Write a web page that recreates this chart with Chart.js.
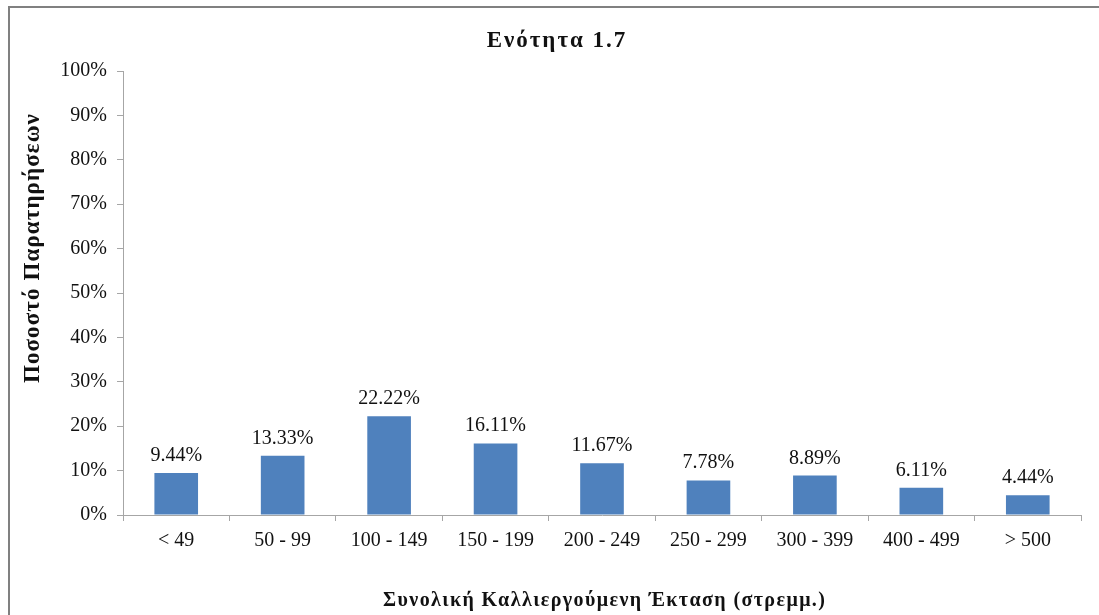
<!DOCTYPE html>
<html>
<head>
<meta charset="utf-8">
<script src="https://cdn.jsdelivr.net/npm/chart.js@4"></script>
<style>
  html, body { margin: 0; padding: 0; background: #fff; overflow: hidden; }
  #wrap { position: relative; width: 1099px; height: 615px; }
  #frame { position: absolute; left: 8px; top: 6px; width: 1200px; height: 700px;
           border-left: 2px solid #808080; border-top: 2px solid #808080; }
  canvas { position: absolute; left: 0; top: 0; }
</style>
</head>
<body>
<div id="wrap">
  <div id="frame"></div>
  <canvas id="chart" width="1099" height="615"></canvas>
</div>
<script>
'use strict';

/* Bar chart: share of observations per cultivated-area class. */

const categories = ['< 49', '50 - 99', '100 - 149', '150 - 199', '200 - 249', '250 - 299', '300 - 399', '400 - 499', '> 500'];
const shares = [9.44, 13.33, 22.22, 16.11, 11.67, 7.78, 8.89, 6.11, 4.44];
const yTicks = [0, 10, 20, 30, 40, 50, 60, 70, 80, 90, 100];

const chartTitle = 'Ενότητα 1.7';
const xTitle = 'Συνολική Καλλιεργούμενη Έκταση (στρεμμ.)';
const yTitle = 'Ποσοστό Παρατηρήσεων';

const FONT = "'Liberation Serif', 'Times New Roman', serif";
const AXIS = '#a6a6a6';
const INK = '#111';

// Value labels above each bar.
const barLabels = {
  id: 'barLabels',
  afterDatasetsDraw(chart) {
    const ctx = chart.ctx;
    const meta = chart.getDatasetMeta(0);
    ctx.save();
    ctx.font = '20px ' + FONT;
    ctx.fillStyle = INK;
    ctx.textAlign = 'center';
    ctx.textBaseline = 'alphabetic';
    meta.data.forEach((bar, i) => {
      ctx.fillText(shares[i].toFixed(2) + '%', bar.x, bar.y - 12);
    });
    ctx.restore();
  },
};

// Titles drawn by hand: the original's bold Greek is set wider than Liberation Serif.
function spacedText(ctx, text, x, y, font, spacing, angle) {
  ctx.save();
  ctx.translate(x, y);
  if (angle) ctx.rotate(angle);
  ctx.font = font;
  ctx.letterSpacing = spacing + 'px';
  ctx.fillStyle = INK;
  ctx.textAlign = 'center';
  ctx.textBaseline = 'middle';
  ctx.fillText(text, spacing / 2, 0);
  ctx.restore();
}

const titles = {
  id: 'titles',
  afterDraw(chart) {
    const ctx = chart.ctx;
    const a = chart.chartArea;
    spacedText(ctx, chartTitle, 556, 41, 'bold 23px ' + FONT, 2, 0);
    spacedText(ctx, xTitle, (a.left + a.right) / 2 + 2, 601, 'bold 20px ' + FONT, 1.4, 0);
    spacedText(ctx, yTitle, 33, a.top + a.height * 0.4, 'bold 23px ' + FONT, 1.1, -Math.PI / 2);
  },
};

new Chart(document.getElementById('chart'), {
  type: 'bar',
  data: {
    labels: categories,
    datasets: [{
      data: shares,
      backgroundColor: '#4f81bd',
      borderWidth: 0,
      barPercentage: 0.41,
      categoryPercentage: 1,
    }],
  },
  options: {
    responsive: false,
    animation: false,
    layout: { padding: { left: 15, right: 18, top: 71, bottom: 0 } },
    scales: {
      x: {
        grid: { display: true, drawOnChartArea: false, drawTicks: true, tickLength: 6, color: AXIS, offset: true },
        border: { color: AXIS, width: 1 },
        ticks: { color: INK, font: { family: FONT, size: 20 }, padding: 8, maxRotation: 0, autoSkip: false },
        afterFit: (s) => { s.height = 100; },
      },
      y: {
        min: 0,
        max: 100,
        afterBuildTicks: (s) => { s.ticks = yTicks.map((v) => ({ value: v })); },
        grid: { display: true, drawOnChartArea: false, drawTicks: true, tickLength: 6, color: AXIS },
        border: { color: AXIS, width: 1 },
        ticks: { color: INK, font: { family: FONT, size: 20 }, padding: 10, callback: (v) => v + '%' },
        afterFit: (s) => { s.width = 108; },
      },
    },
    plugins: {
      legend: { display: false },
      tooltip: { enabled: false },
      title: { display: false },
    },
  },
  plugins: [barLabels, titles],
});
</script>
</body>
</html>
